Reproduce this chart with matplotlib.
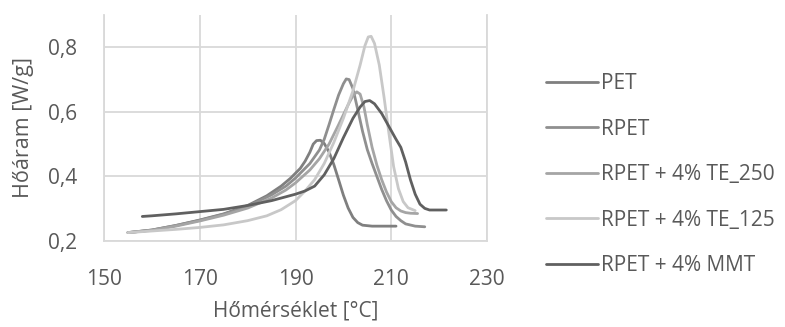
import matplotlib.pyplot as plt
from matplotlib.ticker import FuncFormatter

# data (temperature in °C, heat flow in W/g)
pet_t = [155, 160, 165, 170, 175, 180, 184, 187, 189, 191, 192, 193, 193.7, 194.4,
         195.2, 196, 197, 198, 199, 200, 201, 202, 203, 204, 206, 211]
pet_q = [0.226, 0.234, 0.248, 0.265, 0.284, 0.31, 0.34, 0.37, 0.395, 0.425, 0.447,
         0.475, 0.5, 0.511, 0.512, 0.502, 0.476, 0.437, 0.39, 0.342, 0.302, 0.273,
         0.257, 0.249, 0.246, 0.246]

rpet_t = [155, 160, 165, 170, 175, 180, 185, 188, 190, 193, 195, 196, 197, 198, 199,
          200, 200.6, 201.2, 202, 203, 204, 205, 206, 207, 208, 209, 210, 211, 212,
          213, 215, 217]
rpet_q = [0.226, 0.234, 0.248, 0.264, 0.283, 0.307, 0.343, 0.37, 0.395, 0.44, 0.482,
          0.515, 0.56, 0.607, 0.652, 0.687, 0.702, 0.7, 0.672, 0.607, 0.54, 0.483,
          0.44, 0.40, 0.36, 0.325, 0.296, 0.276, 0.263, 0.253, 0.246, 0.244]

te250_t = [155, 160, 165, 170, 175, 180, 185, 188, 190, 193, 195, 197, 199, 201, 202,
           202.8, 203.5, 204.3, 205, 206, 207, 208, 209, 210, 211, 212, 213, 214, 215.5]
te250_q = [0.226, 0.233, 0.246, 0.262, 0.28, 0.302, 0.333, 0.358, 0.38, 0.42, 0.455,
           0.5, 0.56, 0.622, 0.65, 0.662, 0.655, 0.615, 0.56, 0.49, 0.435, 0.39, 0.352,
           0.322, 0.303, 0.293, 0.288, 0.286, 0.285]

te125_t = [155, 160, 165, 170, 175, 180, 184, 187, 190, 192, 194, 196, 198, 200, 202,
           203.5, 204.5, 205.2, 205.8, 206.5, 207.5, 208.5, 209.5, 210.5, 211.5,
           212.5, 213.5, 215]
te125_q = [0.226, 0.231, 0.236, 0.242, 0.25, 0.263, 0.278, 0.297, 0.325, 0.355, 0.39,
           0.44, 0.505, 0.58, 0.665, 0.745, 0.805, 0.832, 0.834, 0.812, 0.745, 0.645,
           0.535, 0.43, 0.362, 0.322, 0.303, 0.294]

mmt_t = [158, 160, 165, 170, 175, 180, 185, 190, 192, 194, 196, 198, 200, 202, 203.5,
         204.5, 205.5, 206.5, 208, 209.5, 211, 212, 213, 214, 215, 216, 217, 218, 221.5]
mmt_q = [0.276, 0.278, 0.284, 0.291, 0.298, 0.31, 0.325, 0.345, 0.355, 0.37, 0.405,
         0.455, 0.52, 0.58, 0.615, 0.632, 0.635, 0.625, 0.595, 0.555, 0.515, 0.49,
         0.445, 0.39, 0.345, 0.314, 0.301, 0.296, 0.296]

series = [
    ('PET', pet_t, pet_q, '#7f7f7f'),
    ('RPET', rpet_t, rpet_q, '#8f8f8f'),
    ('RPET + 4% TE_250', te250_t, te250_q, '#a5a5a5'),
    ('RPET + 4% TE_125', te125_t, te125_q, '#c8c8c8'),
    ('RPET + 4% MMT', mmt_t, mmt_q, '#606060'),
]

x_ticks = [150, 170, 190, 210, 230]
y_ticks = [0.2, 0.4, 0.6, 0.8]

plt.rcParams['font.family'] = ['Open Sans', 'DejaVu Sans']
txt = '#595959'
grid = '#d9d9d9'

fig = plt.figure(figsize=(7.85, 3.27), dpi=100)
ax = fig.add_axes([104 / 785, 1 - 241 / 327, (487 - 104) / 785, (241 - 15) / 327])

for name, t, q, c in series:
    ax.plot(t, q, color=c, lw=2, label=name, solid_capstyle='round',
            solid_joinstyle='round')

ax.set_xlim(150, 230)
ax.set_ylim(0.2, 0.9)
ax.set_xticks(x_ticks)
ax.set_yticks(y_ticks)
ax.yaxis.set_major_formatter(FuncFormatter(lambda v, p: f'{v:.1f}'.replace('.', ',')))
ax.grid(True, color=grid, lw=1.3)
ax.set_axisbelow(True)
ax.spines['top'].set_visible(False)
for s in ['left', 'bottom', 'right']:
    ax.spines[s].set_color(grid)
    ax.spines[s].set_linewidth(1.3)
ax.tick_params(length=0, labelsize=15, colors=txt)
ax.tick_params(axis='x', pad=20)
ax.tick_params(axis='y', pad=19)

ax.set_xlabel('Hőmérséklet [°C]', fontsize=15, color=txt, labelpad=8)
ax.set_ylabel('Hőáram [W/g]', fontsize=15.5, color=txt, labelpad=10)

leg = fig.legend(loc='upper left', bbox_to_anchor=(546 / 785, 1 - 73 / 327),
                 frameon=False, fontsize=15, handlelength=2.5, handletextpad=0.15,
                 labelspacing=1.18, borderpad=0, borderaxespad=0)
for tx in leg.get_texts():
    tx.set_color(txt)

fig.savefig('out.png', dpi=100)
